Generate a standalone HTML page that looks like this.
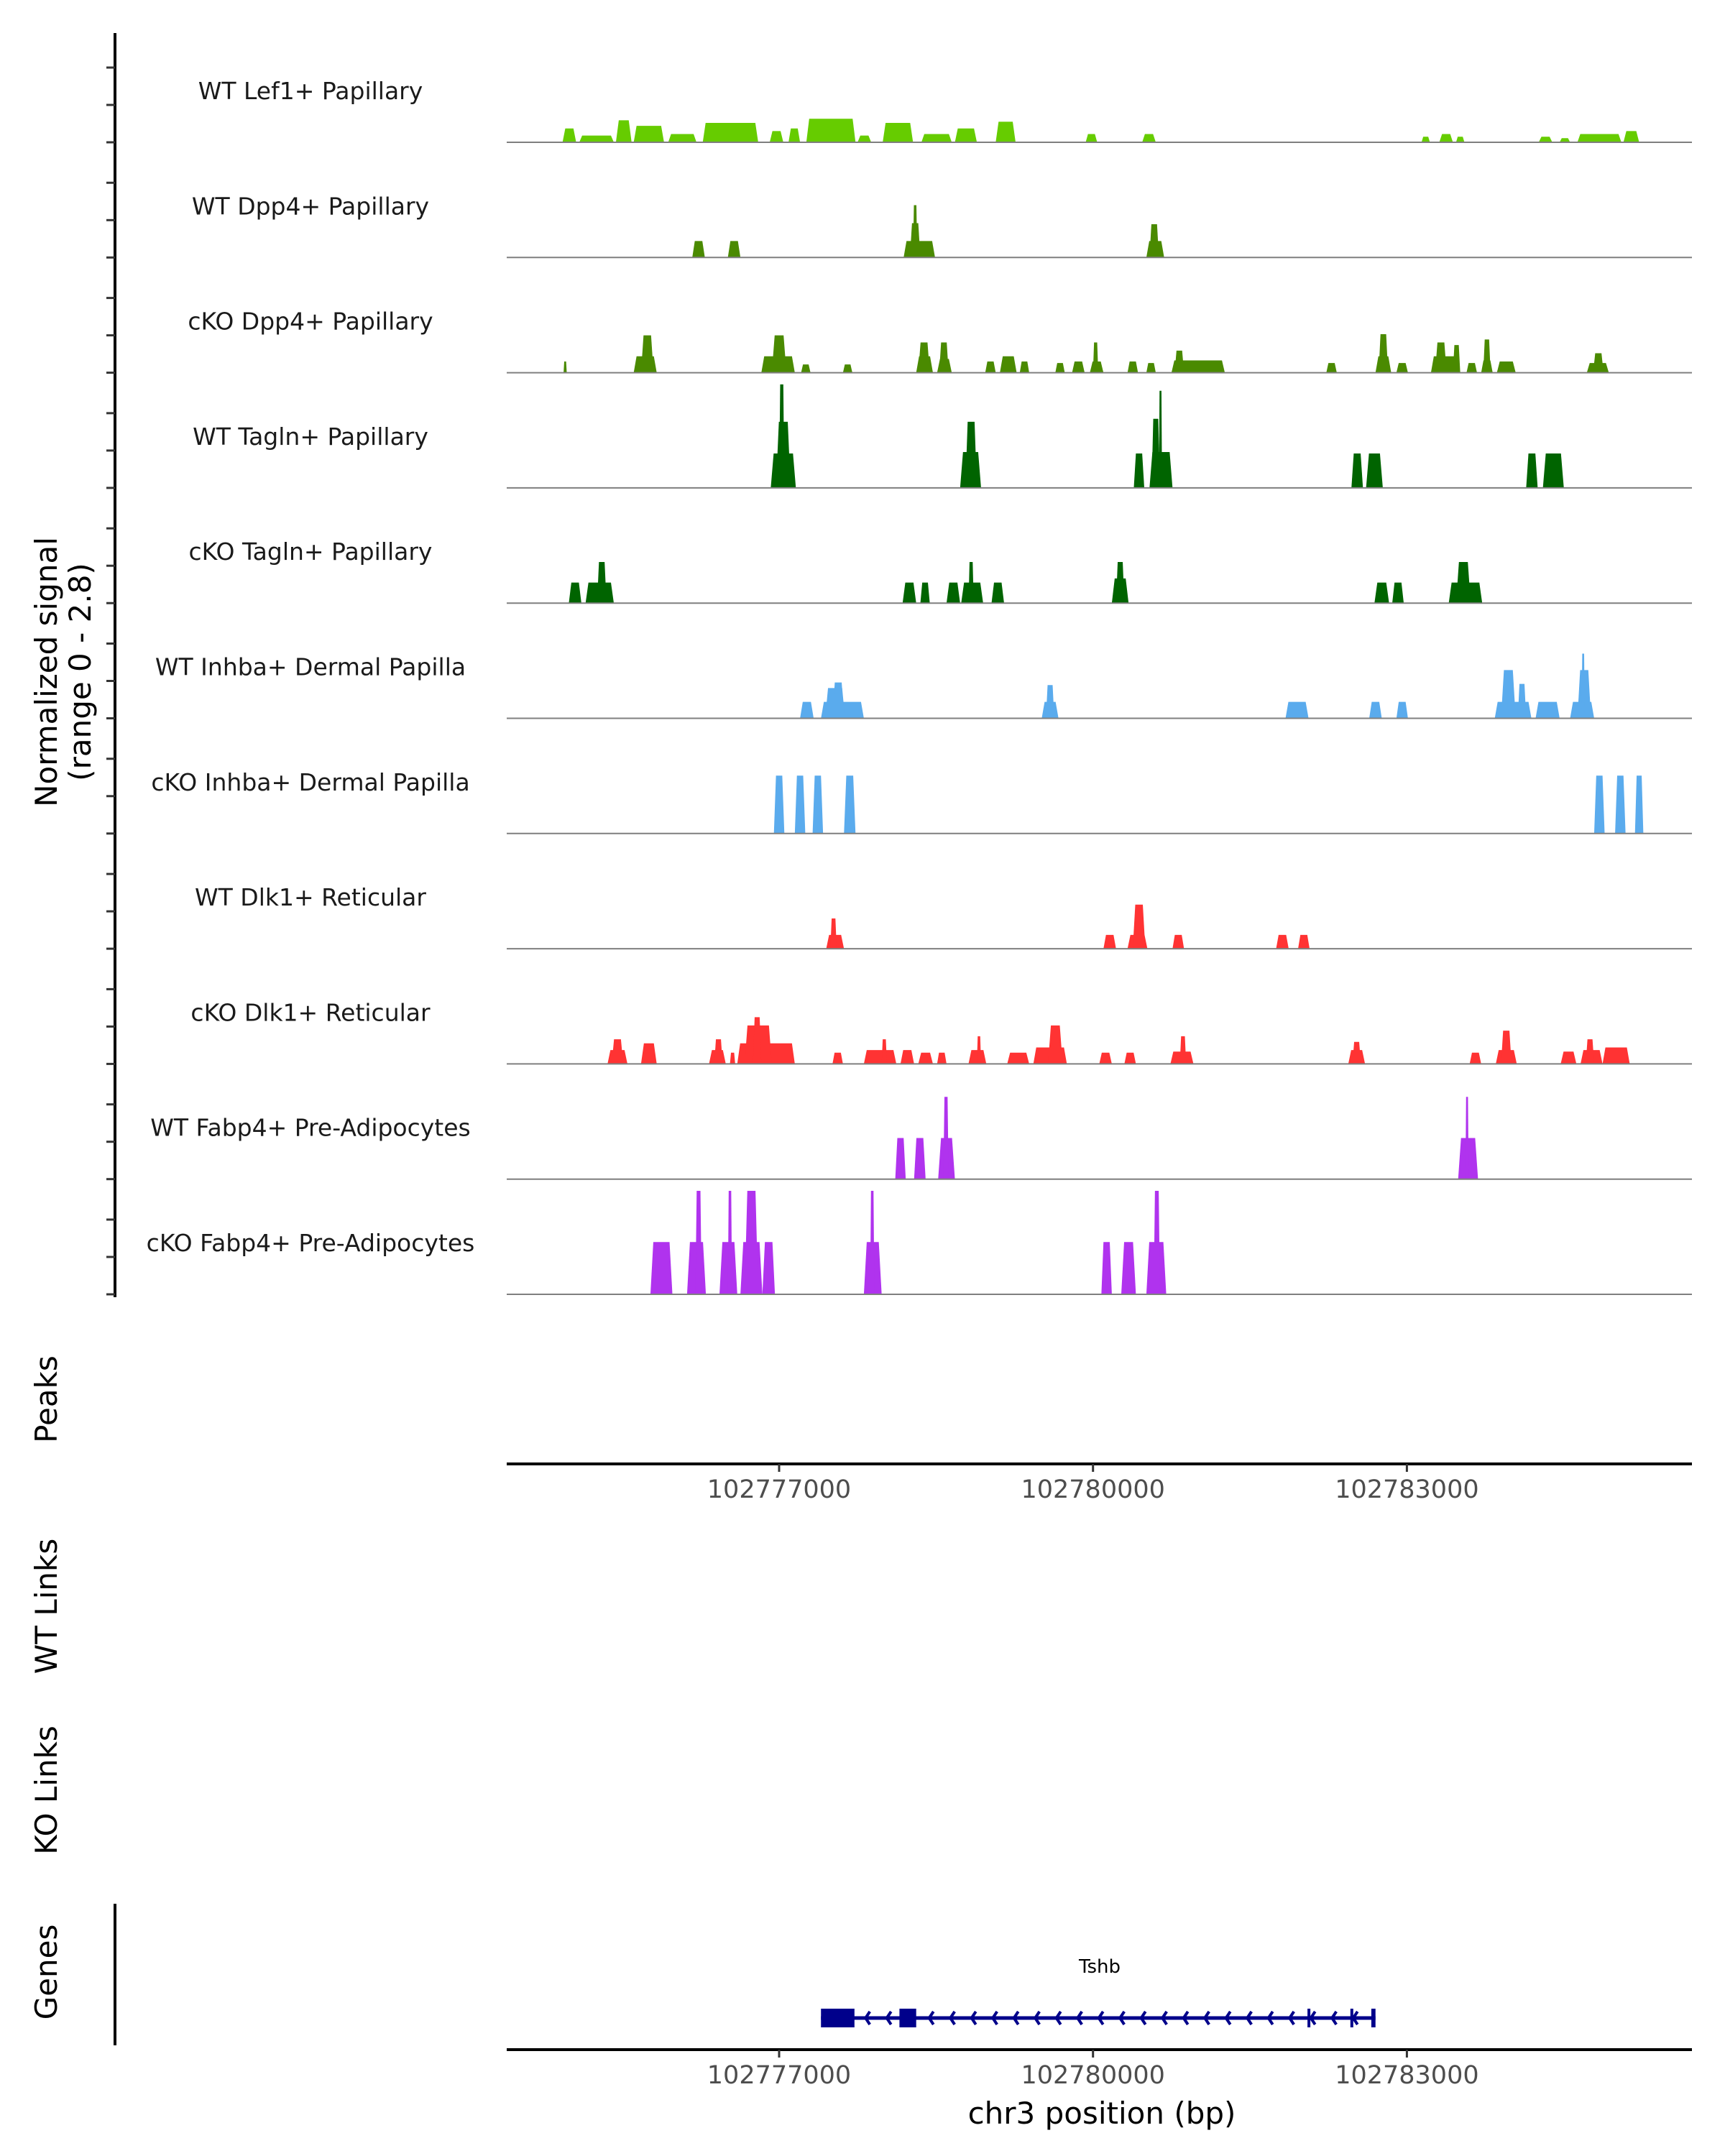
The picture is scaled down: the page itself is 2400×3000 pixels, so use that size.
<!DOCTYPE html>
<html><head><meta charset="utf-8"><style>
html,body{margin:0;padding:0;background:#fff;}
svg{display:block;font-family:"DejaVu Sans","Liberation Sans",sans-serif;}
</style></head><body>
<svg id="chart" width="2400" height="3000" viewBox="0 0 2400 3000" xmlns="http://www.w3.org/2000/svg">
<g id="tracks"></g>
<g id="leftaxis"></g>
<text transform="translate(79,935) rotate(-90)" text-anchor="middle" font-size="42" fill="#000">Normalized signal</text>
<text transform="translate(126,935) rotate(-90)" text-anchor="middle" font-size="42" fill="#000">(range 0 - 2.8)</text>
<text transform="translate(79,1947) rotate(-90)" text-anchor="middle" font-size="42" fill="#000">Peaks</text>
<text transform="translate(79,2235) rotate(-90)" text-anchor="middle" font-size="42" fill="#000">WT Links</text>
<text transform="translate(79,2491) rotate(-90)" text-anchor="middle" font-size="42" fill="#000">KO Links</text>
<text transform="translate(79,2744) rotate(-90)" text-anchor="middle" font-size="42" fill="#000">Genes</text>
<line x1="160" y1="2649" x2="160" y2="2846" stroke="#000" stroke-width="4"/>
<g id="peaksaxis"></g>
<g id="genes"></g>
<g id="bottomaxis"></g>
<text x="1533" y="2955" text-anchor="middle" font-size="42" fill="#000">chr3 position (bp)</text>
</svg>
<script>
const NS="http://www.w3.org/2000/svg";
// ---- data ----
const trackNames=["WT Lef1+ Papillary","WT Dpp4+ Papillary","cKO Dpp4+ Papillary","WT Tagln+ Papillary","cKO Tagln+ Papillary","WT Inhba+ Dermal Papilla","cKO Inhba+ Dermal Papilla","WT Dlk1+ Reticular","cKO Dlk1+ Reticular","WT Fabp4+ Pre-Adipocytes","cKO Fabp4+ Pre-Adipocytes"];
const trackColors=["#66cc00","#4a8a00","#4a8a00","#006400","#006400","#5aabed","#5aabed","#ff3333","#ff3333","#b033ee","#b033ee"];
const xTicks=[102777000,102780000,102783000];
const yTicks=[0,1,2];
// peaks per track: [start bp, end bp, signal]
const t0=[[102774930,102775060,0.37],[102775090,102775420,0.18],[102775440,102775590,0.59],[102775610,102775900,0.44],[102775940,102776210,0.22],[102776270,102776800,0.52],[102776910,102777040,0.3],[102777090,102777200,0.37],[102777260,102777730,0.63],[102777750,102777880,0.18],[102777990,102778280,0.52],[102778360,102778650,0.22],[102778680,102778890,0.37],[102779070,102779260,0.55],[102779930,102780040,0.22],[102780470,102780600,0.22],[102783140,102783220,0.15],[102783310,102783440,0.22],[102783470,102783550,0.15],[102784260,102784390,0.15],[102784460,102784560,0.11],[102784630,102785050,0.22],[102785070,102785220,0.3]];
const t1=[[102776170,102776290,0.44],[102776510,102776630,0.44],[102778190,102778490,0.44],[102778250,102778350,0.92],[102778280,102778320,1.4],[102780510,102780680,0.44],[102780540,102780630,0.89]];
const t2=[[102774940,102774970,0.3],[102775610,102775830,0.44],[102775680,102775800,1.0],[102776830,102777150,0.44],[102776930,102777070,1.0],[102777210,102777300,0.22],[102777610,102777700,0.22],[102778310,102778470,0.44],[102778330,102778440,0.81],[102778510,102778650,0.37],[102778530,102778620,0.81],[102778970,102779070,0.3],[102779110,102779270,0.44],[102779300,102779390,0.3],[102779640,102779730,0.26],[102779800,102779920,0.3],[102779970,102780100,0.3],[102780000,102780050,0.81],[102780330,102780430,0.3],[102780510,102780600,0.26],[102780750,102781260,0.33],[102780780,102780870,0.59],[102782230,102782330,0.26],[102782700,102782850,0.44],[102782730,102782820,1.03],[102782900,102783010,0.26],[102783230,102783510,0.44],[102783270,102783380,0.81],[102783440,102783510,0.74],[102783570,102783670,0.26],[102783710,102783820,0.33],[102783730,102783800,0.89],[102783860,102784040,0.3],[102784720,102784930,0.26],[102784780,102784880,0.52]];
const t3=[[102776920,102777160,0.92],[102776970,102777110,1.77],[102777000,102777050,2.77],[102778730,102778930,0.96],[102778780,102778890,1.77],[102780390,102780490,0.92],[102780540,102780760,0.96],[102780560,102780640,1.85],[102780630,102780660,2.6],[102782470,102782580,0.92],[102782610,102782770,0.92],[102784140,102784250,0.92],[102784300,102784500,0.92]];
const t4=[[102774990,102775110,0.55],[102775150,102775420,0.55],[102775260,102775350,1.1],[102778180,102778310,0.55],[102778350,102778440,0.55],[102778600,102778730,0.55],[102778740,102778950,0.55],[102778810,102778860,1.1],[102779030,102779150,0.55],[102780180,102780340,0.66],[102780220,102780300,1.1],[102782690,102782830,0.55],[102782860,102782970,0.55],[102783400,102783720,0.55],[102783470,102783610,1.1]];
const t5=[[102777200,102777330,0.44],[102777400,102777810,0.44],[102777440,102777630,0.81],[102777510,102777620,0.96],[102779510,102779670,0.44],[102779550,102779630,0.89],[102781840,102782060,0.44],[102782640,102782760,0.44],[102782900,102783010,0.44],[102783840,102784190,0.44],[102783900,102784040,1.29],[102784060,102784140,0.92],[102784230,102784460,0.44],[102784560,102784790,0.44],[102784630,102784760,1.29],[102784670,102784700,1.73]];
const t6=[[102776950,102777050,1.55],[102777150,102777250,1.55],[102777320,102777420,1.55],[102777620,102777730,1.55],[102784790,102784890,1.55],[102784990,102785090,1.55],[102785180,102785260,1.55]];
const t7=[[102777450,102777620,0.37],[102777490,102777550,0.81],[102780100,102780220,0.37],[102780330,102780520,0.37],[102780380,102780500,1.18],[102780760,102780870,0.37],[102781750,102781870,0.37],[102781960,102782070,0.37]];
const t8=[[102775360,102775550,0.37],[102775400,102775510,0.66],[102775680,102775830,0.55],[102776330,102776490,0.37],[102776380,102776460,0.66],[102776530,102776580,0.3],[102776600,102777150,0.55],[102776670,102776930,1.03],[102776750,102776830,1.25],[102777510,102777610,0.3],[102777810,102778120,0.37],[102777980,102778030,0.66],[102778160,102778290,0.37],[102778330,102778470,0.3],[102778510,102778600,0.3],[102778810,102778980,0.37],[102778890,102778930,0.74],[102779180,102779390,0.3],[102779430,102779750,0.44],[102779570,102779710,1.03],[102780060,102780180,0.3],[102780300,102780410,0.3],[102780740,102780960,0.33],[102780830,102780890,0.74],[102782440,102782600,0.37],[102782480,102782560,0.59],[102783600,102783710,0.3],[102783850,102784050,0.37],[102783900,102784000,0.89],[102784470,102784620,0.33],[102784660,102784870,0.37],[102784710,102784790,0.66],[102784870,102785130,0.44]];
const t9=[[102778110,102778210,1.1],[102778290,102778400,1.1],[102778520,102778680,1.1],[102778570,102778620,2.2],[102783490,102783680,1.1],[102783560,102783590,2.2]];
const t10=[[102775770,102775980,1.4],[102776120,102776300,1.4],[102776200,102776260,2.77],[102776430,102776600,1.4],[102776510,102776550,2.77],[102776630,102776840,1.4],[102776670,102776800,2.77],[102776840,102776960,1.4],[102777810,102777980,1.4],[102777870,102777910,2.77],[102780080,102780180,1.4],[102780270,102780410,1.4],[102780510,102780700,1.4],[102780580,102780640,2.77]];
const trackPeaks=[t0,t1,t2,t3,t4,t5,t6,t7,t8,t9,t10];
// gene model (Tshb)
const geneName="Tshb";
const geneRange=[102777400,102782700];
const geneExons=[[102777400,102777720],[102778150,102778310],[102782050,102782075],[102782460,102782485],[102782660,102782700]];

// ---- scales ----
const X0=705,X1=2354,BP0=102777000,PX0=1084,PXPERBP=436.7/3000;
function xs(bp){return PX0+(bp-BP0)*PXPERBP;}
const TRACK0=198,TRACKSTEP=160.3,UNIT=52;
function ys(i,v){return TRACK0+i*TRACKSTEP-v*UNIT;}

const tracksG=document.getElementById('tracks');
trackNames.forEach((name,i)=>{
  const g=document.createElementNS(NS,'g');
  
  
  tracksG.appendChild(g);
  const lab=document.createElementNS(NS,'text');
  
  
  lab.setAttribute('x',432);lab.setAttribute('y',ys(i,0)-60);
  lab.setAttribute('text-anchor','middle');lab.setAttribute('font-size','33');lab.setAttribute('fill','#1a1a1a');
  lab.textContent=name;g.appendChild(lab);
  trackPeaks[i].forEach(p=>{
    const a=xs(p[0]),b=xs(p[1]),w=b-a,r=Math.min(w*0.2,4),y0=ys(i,0),y1=ys(i,p[2]);
    const poly=document.createElementNS(NS,'polygon');
    
    
    poly.setAttribute('points',`${a},${y0} ${a+r},${y1} ${b-r},${y1} ${b},${y0}`);
    poly.setAttribute('fill',trackColors[i]);
    g.appendChild(poly);
  });
  const base=document.createElementNS(NS,'line');
  
  
  base.setAttribute('x1',X0);base.setAttribute('x2',X1);
  base.setAttribute('y1',ys(i,0));base.setAttribute('y2',ys(i,0));
  base.setAttribute('stroke','#7f7f7f');base.setAttribute('stroke-width','2');
  g.appendChild(base);
});

// left axis
const la=document.getElementById('leftaxis');
const axl=document.createElementNS(NS,'line');


axl.setAttribute('x1',160);axl.setAttribute('x2',160);axl.setAttribute('y1',46);axl.setAttribute('y2',ys(10,0)+4);
axl.setAttribute('stroke','#000');axl.setAttribute('stroke-width','4');
la.appendChild(axl);
trackNames.forEach((n,i)=>{
  yTicks.forEach(v=>{
    const t=document.createElementNS(NS,'line');
    
    
    t.setAttribute('x1',148);t.setAttribute('x2',160);
    t.setAttribute('y1',ys(i,v));t.setAttribute('y2',ys(i,v));
    t.setAttribute('stroke','#333');t.setAttribute('stroke-width','3');
    la.appendChild(t);
  });
});

function xAxis(gid,y){
  const g=document.getElementById(gid);
  const l=document.createElementNS(NS,'line');
  
  
  l.setAttribute('x1',X0);l.setAttribute('x2',X1);l.setAttribute('y1',y);l.setAttribute('y2',y);
  l.setAttribute('stroke','#000');l.setAttribute('stroke-width','4');
  g.appendChild(l);
  xTicks.forEach(v=>{
    const t=document.createElementNS(NS,'line');
    
    
    t.setAttribute('x1',xs(v));t.setAttribute('x2',xs(v));t.setAttribute('y1',y);t.setAttribute('y2',y+11);
    t.setAttribute('stroke','#333');t.setAttribute('stroke-width','3');
    g.appendChild(t);
    const tx=document.createElementNS(NS,'text');
    
    
    tx.setAttribute('x',xs(v));tx.setAttribute('y',y+47);
    tx.setAttribute('text-anchor','middle');tx.setAttribute('font-size','35');tx.setAttribute('fill','#4d4d4d');
    tx.textContent=v;g.appendChild(tx);
  });
}
xAxis('peaksaxis',2037);
xAxis('bottomaxis',2852);

// gene
const gg=document.getElementById('genes');
const GY=2808;
const gl=document.createElementNS(NS,'line');


gl.setAttribute('x1',xs(geneRange[0]));gl.setAttribute('x2',xs(geneRange[1]));gl.setAttribute('y1',GY);gl.setAttribute('y2',GY);
gl.setAttribute('stroke','#00008b');gl.setAttribute('stroke-width','5');
gg.appendChild(gl);
for(let x=xs(geneRange[0])+62;x<xs(geneRange[1])-10;x+=29.5){
  const ar=document.createElementNS(NS,'polyline');
  
  
  ar.setAttribute('points',`${x+6},${GY-9} ${x},${GY} ${x+6},${GY+9}`);
  ar.setAttribute('fill','none');ar.setAttribute('stroke','#00008b');ar.setAttribute('stroke-width','4');
  gg.appendChild(ar);
}
geneExons.forEach(e=>{
  const r=document.createElementNS(NS,'rect');
  
  
  const a=xs(e[0]),b=xs(e[1]);
  r.setAttribute('x',a);r.setAttribute('width',Math.max(b-a,4));r.setAttribute('y',GY-13);r.setAttribute('height',26);
  r.setAttribute('fill','#00008b');gg.appendChild(r);
});
const gn=document.createElementNS(NS,'text');


gn.setAttribute('x',1530);gn.setAttribute('y',2745);gn.setAttribute('text-anchor','middle');gn.setAttribute('font-size','26');gn.setAttribute('fill','#000');
gn.textContent=geneName;gg.appendChild(gn);
</script>
</body></html>
